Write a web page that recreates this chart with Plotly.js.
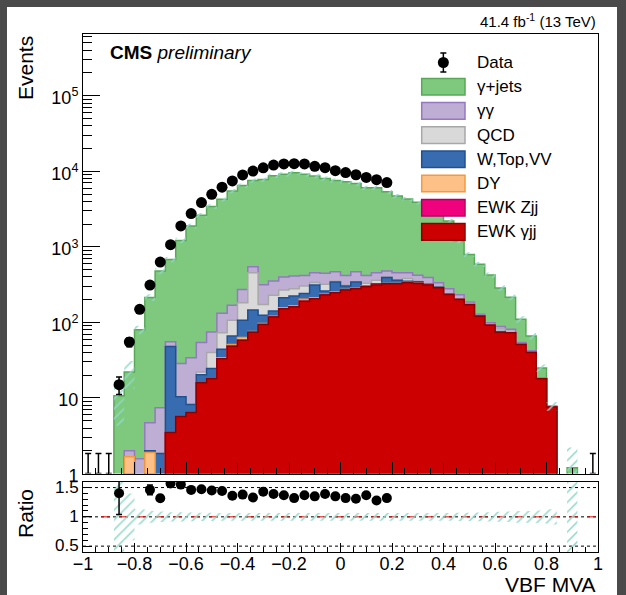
<!DOCTYPE html>
<html>
<head>
<meta charset="utf-8">
<script src="https://cdn.plot.ly/plotly-3.0.1.min.js"></script>
<style>
  html, body { margin: 0; padding: 0; width: 626px; height: 595px; overflow: hidden; background: #4a4a4a; }
  #sheet { position: absolute; left: 7px; top: 7px; width: 610px; height: 588px; background: #ffffff; }
  #chart { position: absolute; left: 0; top: 0; width: 626px; height: 595px; }
</style>
</head>
<body>
<div id="sheet"></div>
<div id="chart"></div>
<script>
// Binning of the VBF MVA discriminant: 50 bins of 0.04 from -1 to 1
const xMin = -1;
const binWidth = 0.04;

// Observed events per bin (null = blinded region, not drawn)
const dataCounts = [
  0, 0, 0, 15, 55, 149, 312, 629, 1069, 1888,
  2754, 3848, 4957, 6150, 7450, 8940, 10050, 11100, 12100, 12500,
  12600, 12500, 11650, 11150, 10200, 9600, 9000, 8300, 7750, 7080,
  null, null, null, null, null, null, null, null, null, null,
  null, null, null, null, null, null, null, null, null, 0
];

// Simulated processes, events per bin (stacked bottom-up in this order)
const ewkGammaJJ = [
  0, 0, 0, 0, 0, 0, 0, 0, 3.5, 5.7,
  6.4, 15.9, 18, 33, 48.5, 58, 74, 94, 118, 152,
  161, 190, 206, 230, 247, 268, 279, 297, 312, 325,
  325, 335, 328, 312, 288, 234, 201, 171, 121, 92,
  74, 73, 51, 40, 18, 7.6, 0, 0, 0, 0
];
const ewkZjj = [
  0, 0, 0, 0, 0, 0, 0, 0, 0, 0,
  0, 0, 0, 0, 0, 0, 0, 0, 0, 0,
  0, 0, 0, 0, 0, 0, 0, 0, 0, 0,
  0, 0, 0, 0, 0, 0, 0, 0, 0, 0,
  0, 0, 0, 0, 0, 0, 0, 0, 0, 0
];
const drellYan = [
  0, 0, 0, 0, 1.66, 0, 1.9, 0, 0, 0,
  0, 0, 0, 1, 2.5, 5, 2, 3, 3, 4,
  5, 12, 6, 6, 5, 4, 3, 3, 2, 2,
  2, 2, 2, 2, 1, 1, 1, 0, 0, 0,
  0, 0, 0, 0, 0, 0, 0, 0, 0, 0
];
const wTopVV = [
  0, 0, 0, 0, 0, 0, 0.1, 1.84, 44.5, 4.7,
  1.8, 4.4, 6.6, 10, 15, 44, 70, 27, 20, 56,
  57, 40, 100, 24, 90, 31, 60, 5, 11, 67,
  33, 13, 15, 6, 4, 3, 2, 1, 1, 0,
  2, 0, 0, 0, 0, 0, 0, 0, 0, 0
];
const qcdMultijet = [
  0, 0, 0, 0, 0, 0, 0, 0, 0, 0,
  0, 1.7, 15.4, 29, 41, 75, 309, 49, 87, 56,
  56, 61, 24, 59, 8, 7, 3, 25, 35, 4,
  5, 30, 5, 5, 3, 2, 1, 3, 1, 0,
  6, 0, 0, 0, 0, 0, 0, 0, 0, 0
];
const diphoton = [
  0, 0, 0, 0, 0.34, 1.57, 2.7, 5.56, 7.5, 18.2,
  25.8, 32, 34.5, 59, 61, 91, 92, 143, 124, 130,
  131, 116, 119, 128, 119, 109, 124, 89, 95, 80,
  90, 75, 70, 69, 39, 39, 27, 11, 5, 7,
  6, 8, 3, 2, 0.3, 0, 0, 0, 0, 0
];
const gammaJets = [
  0, 0, 0, 10.7, 20, 78.4, 209, 470, 626, 1189,
  1852, 2564, 3345, 4139, 5310, 6205, 7009, 7446, 8353, 8726,
  9135, 8705, 8175, 7575, 7087, 6854, 6401, 5639, 5600, 4886,
  4245, 3845, 3480, 3006, 2465, 1921, 968, 604, 458, 326,
  197, 134, 56, 24, 6.7, 0.2, 0, 1.19, 0, 0
];

// Relative statistical uncertainty of the total simulation per bin
const mcRelErr = [
  0, 0, 0, 0.6, 0.4, 0.13, 0.1, 0.09, 0.08, 0.08,
  0.075, 0.07, 0.07, 0.065, 0.065, 0.065, 0.065, 0.065, 0.065, 0.065,
  0.065, 0.065, 0.065, 0.065, 0.065, 0.065, 0.065, 0.065, 0.065, 0.065,
  0.065, 0.065, 0.065, 0.065, 0.065, 0.065, 0.07, 0.07, 0.075, 0.08,
  0.085, 0.09, 0.1, 0.1, 0.11, 0.13, 0, 0.85, 0, 0
];

const yTickVals = [1, 10, 100, 1000, 10000, 100000];
const yTickText = ['1', '10', '10<sup>2</sup>', '10<sup>3</sup>', '10<sup>4</sup>', '10<sup>5</sup>'];
const ratioTickVals = [0.5, 1, 1.5];
const ratioTickText = ['0.5', '1', '1.5'];

// ---------------------------------------------------------------------------
const nBins = dataCounts.length;
const edges = Array.from({ length: nBins + 1 }, (_, i) => +(xMin + i * binWidth).toFixed(4));
const centers = edges.slice(0, -1).map(e => +(e + binWidth / 2).toFixed(4));

const stack = [
  { name: 'EWK γjj',  v: ewkGammaJJ,  fill: '#cc0000', line: '#8e0000' },
  { name: 'EWK Zjj',  v: ewkZjj,      fill: '#f0027f', line: '#b3005f' },
  { name: 'DY',       v: drellYan,    fill: '#fdc086', line: '#f39a40' },
  { name: 'W,Top,VV', v: wTopVV,      fill: '#386cb0', line: '#21508f' },
  { name: 'QCD',      v: qcdMultijet, fill: '#d9d9d9', line: '#a8a8a8' },
  { name: 'γγ',       v: diphoton,    fill: '#beaed4', line: '#9479bf' },
  { name: 'γ+jets',   v: gammaJets,   fill: '#7fc97f', line: '#58a858' }
];
let running = new Array(nBins).fill(0);
stack.forEach(s => {
  running = running.map((r, i) => r + s.v[i]);
  s.cum = running.slice();
});
const total = stack[stack.length - 1].cum;

const FLOOR = 1e-3; // below the visible log range
function stepY(vals) {
  const y = vals.map(v => (v > 0 ? v : FLOOR));
  y.push(y[y.length - 1]);
  return y;
}

const traces = [];

// Stacked histogram, drawn from the top of the stack down (largest first)
stack.slice().reverse().forEach(s => {
  traces.push({
    type: 'scatter', x: edges, y: new Array(nBins + 1).fill(FLOOR),
    mode: 'lines', line: { width: 0, shape: 'hv' }, hoverinfo: 'skip',
    xaxis: 'x', yaxis: 'y', showlegend: false
  });
  traces.push({
    type: 'scatter', x: edges, y: stepY(s.cum), name: s.name,
    mode: 'lines', line: { shape: 'hv', color: s.line, width: 1.5 },
    fill: 'tonexty', fillcolor: s.fill, hoverinfo: 'skip',
    xaxis: 'x', yaxis: 'y', showlegend: false
  });
});

// Hatched band for the simulation uncertainty
const hatch = { shape: '/', fgcolor: '#8fd8c6', bgcolor: 'rgba(0,0,0,0)', size: 7, solidity: 0.22 };
function bandTrace(lo, hi, xa, ya) {
  const bx = [], by = [];
  for (let i = 0; i < nBins; i++) {
    if (total[i] > 0 && mcRelErr[i] > 0) {
      bx.push(edges[i], edges[i + 1], edges[i + 1], edges[i], edges[i], null);
      by.push(lo[i], lo[i], hi[i], hi[i], lo[i], null);
    }
  }
  return {
    type: 'scatter', x: bx, y: by, mode: 'lines', line: { width: 0 },
    fill: 'toself', fillcolor: 'rgba(0,0,0,0)', fillpattern: hatch,
    hoverinfo: 'skip', xaxis: xa, yaxis: ya, showlegend: false
  };
}
traces.push(bandTrace(
  total.map((t, i) => t * (1 - mcRelErr[i])),
  total.map((t, i) => t * (1 + mcRelErr[i])), 'x', 'y'));

// Data points
const dX = [], dY = [], dE = [], zX = [], zY = [], zE = [];
dataCounts.forEach((d, i) => {
  if (d === null) return;
  if (d > 0) { dX.push(centers[i]); dY.push(d); dE.push(Math.sqrt(d)); }
  else { zX.push(centers[i]); zY.push(1); zE.push(0.84); } // empty bin: upper limit 1.84
});
traces.push({
  type: 'scatter', x: zX, y: zY, mode: 'markers',
  marker: { size: 1, color: 'rgba(0,0,0,0)' },
  error_y: { type: 'data', symmetric: false, array: zE, arrayminus: zE.map(() => 0), color: '#000', thickness: 1.5, width: 3 },
  xaxis: 'x', yaxis: 'y', hoverinfo: 'skip', showlegend: false, cliponaxis: false
});
traces.push({
  type: 'scatter', x: dX, y: dY, mode: 'markers', name: 'Data',
  marker: { size: 11, color: '#000' },
  error_y: { type: 'data', array: dE, color: '#000', thickness: 1.5, width: 3 },
  xaxis: 'x', yaxis: 'y', showlegend: false
});

// Ratio panel
traces.push(bandTrace(mcRelErr.map(e => 1 - e), mcRelErr.map(e => 1 + e), 'x2', 'y2'));
const rX = [], rY = [], rE = [];
dataCounts.forEach((d, i) => {
  if (d !== null && d > 0 && total[i] > 0) {
    rX.push(centers[i]); rY.push(d / total[i]); rE.push(Math.sqrt(d) / total[i]);
  }
});
traces.push({
  type: 'scatter', x: rX, y: rY, mode: 'markers',
  marker: { size: 10, color: '#000' },
  error_y: { type: 'data', array: rE, color: '#000', thickness: 1.5, width: 3 },
  xaxis: 'x2', yaxis: 'y2', showlegend: false
});

// ---------------------------------------------------------------------------
// Page geometry (pixels) of the plotting area
const figW = 626, figH = 595;
const plotL = 83, plotR = 598, plotT = 34, plotB = 552;
const mainBottom = 473.5, ratioTop = 481.7;
const px = x => (x - plotL) / (plotR - plotL);
const py = y => (plotB - y) / (plotB - plotT);

const minorLog = [];
for (let d = 0; d < 6; d++) for (let m = 2; m <= 9; m++) minorLog.push(m * Math.pow(10, d));

const shapes = [];
const annotations = [];

// Ratio reference lines
[[0.5, '#000', 'dot'], [1.5, '#000', 'dot'], [1, '#000', 'dot'], [1, '#e00000', 'dash']].forEach(([v, c, dash]) => {
  shapes.push({ type: 'line', xref: 'x2', yref: 'y2', x0: -1, x1: 1, y0: v, y1: v,
    line: { color: c, width: 1, dash: dash }, layer: 'below' });
});

// Legend
const legendEntries = stack.slice().reverse();
const legX0 = 421.7, legX1 = 465, legTextX = 475, legY0 = 86.7, legDy = 24.2, boxH = 16.6;
legendEntries.forEach((s, k) => {
  const cy = legY0 + k * legDy;
  shapes.push({ type: 'rect', xref: 'paper', yref: 'paper',
    x0: px(legX0), x1: px(legX1), y0: py(cy + boxH / 2), y1: py(cy - boxH / 2),
    fillcolor: s.fill, line: { color: s.line, width: 1.5 } });
  annotations.push({ xref: 'paper', yref: 'paper', x: px(legTextX), y: py(cy),
    xanchor: 'left', yanchor: 'middle', text: s.name, showarrow: false,
    font: { size: 17, color: '#000' } });
});
const dataLegY = legY0 - legDy, dataLegX = (legX0 + legX1) / 2;
shapes.push({ type: 'line', xref: 'paper', yref: 'paper', x0: px(dataLegX), x1: px(dataLegX),
  y0: py(dataLegY - 9.5), y1: py(dataLegY + 9.5), line: { color: '#000', width: 1.5 } });
[dataLegY - 9.5, dataLegY + 9.5].forEach(yy => {
  shapes.push({ type: 'line', xref: 'paper', yref: 'paper', x0: px(dataLegX - 3), x1: px(dataLegX + 3),
    y0: py(yy), y1: py(yy), line: { color: '#000', width: 1.5 } });
});
shapes.push({ type: 'circle', xref: 'paper', yref: 'paper',
  x0: px(dataLegX - 5.5), x1: px(dataLegX + 5.5), y0: py(dataLegY + 5.5), y1: py(dataLegY - 5.5),
  fillcolor: '#000', line: { color: '#000', width: 0 } });
annotations.push({ xref: 'paper', yref: 'paper', x: px(legTextX), y: py(dataLegY),
  xanchor: 'left', yanchor: 'middle', text: 'Data', showarrow: false, font: { size: 17, color: '#000' } });

// Labels
annotations.push({ xref: 'paper', yref: 'paper', x: px(108), y: py(52), xanchor: 'left', yanchor: 'middle',
  text: '<b>CMS</b> <i>preliminary</i>', showarrow: false, font: { size: 19, color: '#000' } });
annotations.push({ xref: 'paper', yref: 'paper', x: px(598), y: py(21), xanchor: 'right', yanchor: 'middle',
  text: '41.4 fb<sup>-1</sup> (13 TeV)', showarrow: false, font: { size: 15, color: '#000' } });
annotations.push({ xref: 'paper', yref: 'paper', x: px(25), y: py(34), xanchor: 'center', yanchor: 'top',
  text: 'Events', textangle: -90, showarrow: false, font: { size: 21, color: '#000' } });
annotations.push({ xref: 'paper', yref: 'paper', x: px(25), y: py(514), xanchor: 'center', yanchor: 'middle',
  text: 'Ratio', textangle: -90, showarrow: false, font: { size: 21, color: '#000' } });
annotations.push({ xref: 'paper', yref: 'paper', x: px(598), y: py(584), xanchor: 'right', yanchor: 'middle',
  text: 'VBF MVA', showarrow: false, font: { size: 21, color: '#000' } });

const frame = { showline: true, mirror: true, linecolor: '#000', linewidth: 1, showgrid: false, zeroline: false };

const layout = {
  width: figW, height: figH,
  margin: { l: plotL, r: figW - plotR, t: plotT, b: figH - plotB, pad: 0 },
  paper_bgcolor: 'rgba(0,0,0,0)', plot_bgcolor: 'rgba(0,0,0,0)',
  font: { family: 'Liberation Sans, Arial, Helvetica, sans-serif', color: '#000' },
  showlegend: false,
  xaxis: Object.assign({}, frame, {
    domain: [0, 1], anchor: 'y', range: [-1, 1], showticklabels: false,
    ticks: 'inside', tick0: -1, dtick: 0.2, ticklen: 12, tickcolor: '#000', tickwidth: 1,
    minor: { ticks: 'inside', tick0: -1, dtick: 0.05, ticklen: 6, tickcolor: '#000', tickwidth: 1 }
  }),
  yaxis: Object.assign({}, frame, {
    domain: [py(mainBottom), 1], anchor: 'x', type: 'log', range: [0, 5.817],
    tickmode: 'array', tickvals: yTickVals, ticktext: yTickText,
    ticks: 'inside', ticklen: 17, tickcolor: '#000', tickwidth: 1,
    tickfont: { size: 18, color: '#000' }, ticklabelshift: 2,
    minor: { ticks: 'inside', tickmode: 'array', tickvals: minorLog, ticklen: 9, tickcolor: '#000', tickwidth: 1 }
  }),
  xaxis2: Object.assign({}, frame, {
    domain: [0, 1], anchor: 'y2', range: [-1, 1],
    tick0: -1, dtick: 0.2, ticks: 'inside', ticklen: 9, tickcolor: '#000', tickwidth: 1,
    tickfont: { size: 18, color: '#000' }, ticklabelstandoff: -5,
    minor: { ticks: 'inside', tick0: -1, dtick: 0.05, ticklen: 5, tickcolor: '#000', tickwidth: 1 }
  }),
  yaxis2: Object.assign({}, frame, {
    domain: [0, py(ratioTop)], anchor: 'x2', range: [0.4, 1.6],
    tickmode: 'array', tickvals: ratioTickVals, ticktext: ratioTickText,
    ticks: 'inside', ticklen: 9, tickcolor: '#000', tickwidth: 1,
    tickfont: { size: 17, color: '#000' }, ticklabelshift: -1,
    minor: { ticks: 'inside', tick0: 0.4, dtick: 0.1, ticklen: 5, tickcolor: '#000', tickwidth: 1 }
  }),
  shapes: shapes,
  annotations: annotations
};

Plotly.newPlot('chart', traces, layout, { staticPlot: true, displayModeBar: false });
</script>
</body>
</html>
